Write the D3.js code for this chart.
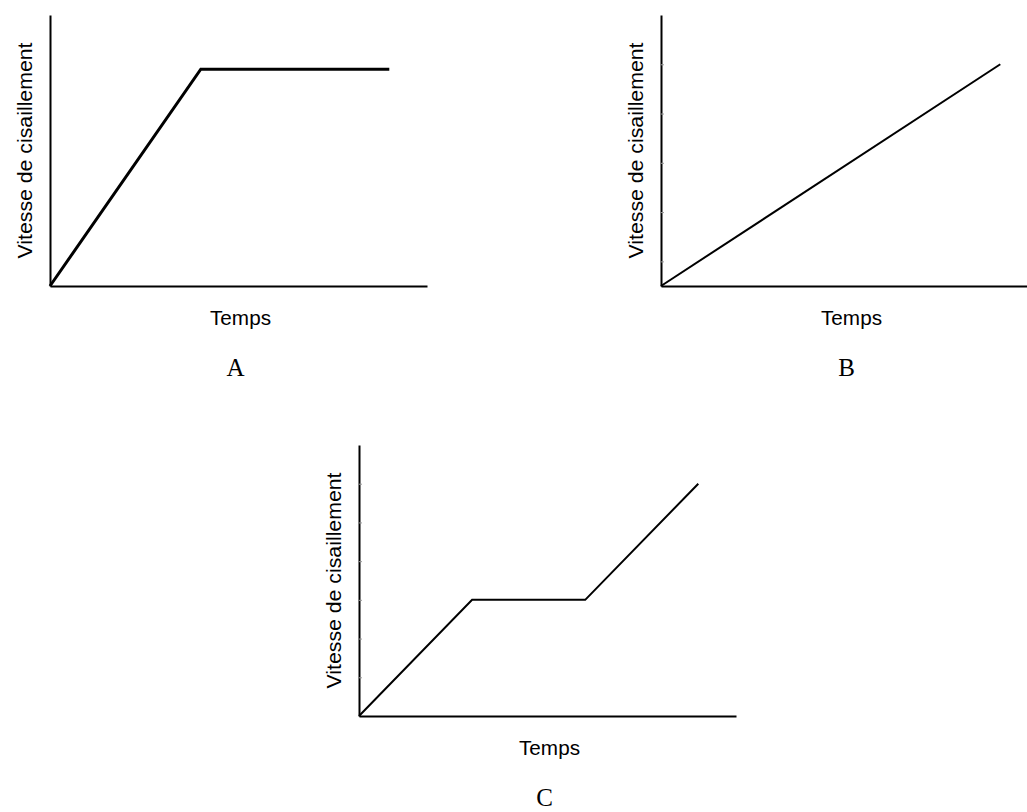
<!DOCTYPE html>
<html>
<head>
<meta charset="utf-8">
<script src="https://cdn.jsdelivr.net/npm/d3@7"></script>
<style>
  html, body { margin: 0; padding: 0; background: #fff; }
  svg { display: block; }
  .ttl { font-family: "Liberation Sans", Arial, sans-serif; font-size: 20px; fill: #000; }
  .tag { font-family: "Liberation Serif", "Times New Roman", serif; font-size: 25px; fill: #000; }
</style>
</head>
<body>
<svg width="1027" height="812"></svg>
<script>
//Data
const panelNames = ["A", "B", "C"];
const xTitle = "Temps";
const yTitle = "Vitesse de cisaillement";

const timeA = [0, 4, 5, 6, 7, 8, 9];
const rateA = [0, 8, 8, 8, 8, 8, 8];
const timeB = [0, 9];
const rateB = [0, 9];
const timeC = [0, 3, 4, 5, 6, 9];
const rateC = [0, 3, 3, 3, 3, 6];

const xDomain = [0, 10];
const yDomains = [[0, 10], [0, 11], [0, 7]];
const yTicks = [[], [1, 3, 5, 7, 9], [1, 2, 3, 4, 5, 6]];

//Layout (px)
let plotW = 377;
let plotH = 271;
let origins = [[50, 286], [661, 286], [359, 716]];
let lineWidths = [3, 2, 2];

let svg = d3.select("svg");
let series = [[timeA, rateA], [timeB, rateB], [timeC, rateC]];

panelNames.forEach((name, i) => {
    let [ox, oy] = origins[i];
    let g = svg.append("g").attr("transform", `translate(${ox},${oy - plotH})`);

    let xScale = d3.scaleLinear().domain(xDomain).range([0, plotW]);
    let yScale = d3.scaleLinear().domain(yDomains[i]).range([plotH, 0]);

    //y-axis with small inner ticks
    let yAxis = g.append("g")
        .call(d3.axisLeft(yScale).tickValues(yTicks[i]).tickSize(-3).tickSizeOuter(0).tickFormat(""));
    yAxis.select(".domain").attr("stroke", "#000").attr("stroke-width", 2);
    yAxis.selectAll(".tick line").attr("stroke", "#999").attr("stroke-width", 1);

    //x-axis, no ticks
    let xAxis = g.append("g")
        .attr("transform", `translate(0,${plotH})`)
        .call(d3.axisBottom(xScale).tickValues([]).tickSizeOuter(0));
    xAxis.select(".domain").attr("stroke", "#000").attr("stroke-width", 2);

    //the curve
    let pts = d3.zip(series[i][0], series[i][1]);
    g.append("path")
        .datum(pts)
        .attr("fill", "none")
        .attr("stroke", "#000")
        .attr("stroke-width", lineWidths[i])
        .attr("stroke-linejoin", "miter")
        .attr("d", d3.line().x(d => xScale(d[0])).y(d => yScale(d[1])));

    //axis titles
    g.append("text")
        .attr("class", "ttl")
        .attr("text-anchor", "middle")
        .attr("x", plotW / 2 + 2)
        .attr("y", plotH + 39)
        .attr("textLength", 61)
        .attr("lengthAdjust", "spacingAndGlyphs")
        .text(xTitle);

    g.append("text")
        .attr("class", "ttl")
        .attr("text-anchor", "middle")
        .attr("transform", `translate(-18,${plotH / 2}) rotate(-90)`)
        .attr("textLength", 216)
        .attr("lengthAdjust", "spacingAndGlyphs")
        .text(yTitle);

    //panel letter
    g.append("text")
        .attr("class", "tag")
        .attr("text-anchor", "middle")
        .attr("x", plotW / 2 - 3)
        .attr("y", plotH + 90)
        .text(name);
});
</script>
</body>
</html>
